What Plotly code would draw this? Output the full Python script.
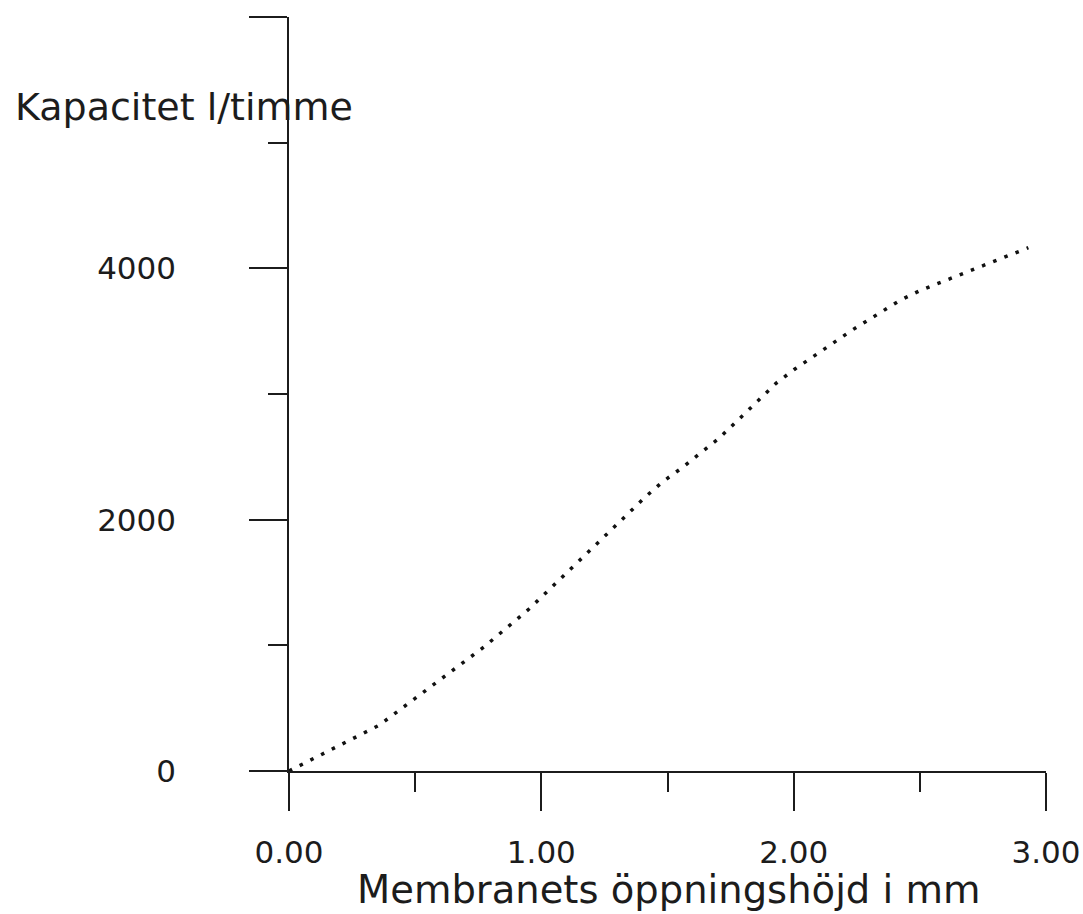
import plotly.graph_objects as go

# Data
opening_mm = [0.00, 0.357, 0.774, 0.951, 1.116, 1.281, 1.415, 1.481, 1.555, 1.629,
              1.701, 1.769, 1.834, 1.930, 2.005, 2.118, 2.232, 2.349, 2.424, 2.503,
              2.589, 2.676, 2.761, 2.846, 2.930]
capacity_lph = [0, 364, 989, 1289, 1607, 1926, 2186, 2302, 2409, 2528,
                2642, 2772, 2899, 3085, 3199, 3350, 3509, 3655, 3748, 3825,
                3894, 3961, 4029, 4096, 4164]

x_major = [0, 1, 2, 3]
x_major_text = ["0.00", "1.00", "2.00", "3.00"]
x_minor = [0.5, 1.5, 2.5]
y_major = [0, 2000, 4000, 6000]
y_major_text = ["0", "2000", "4000", ""]
y_minor = [1000, 3000, 5000]

x_title = "Membranets öppningshöjd i mm"
y_title = "Kapacitet l/timme"

FONT = "DejaVu Sans"
INK = "#1c1c1c"

fig = go.Figure()
fig.add_trace(go.Scatter(
    x=opening_mm, y=capacity_lph, mode="lines",
    line=dict(color="#111111", width=3.5, dash="3.5px,8.5px"),
    showlegend=False, hoverinfo="skip",
))

axis_common = dict(
    showline=True, linecolor=INK, linewidth=1.5, mirror=False,
    showgrid=False, zeroline=False, ticks="outside",
    tickcolor=INK, tickwidth=1.5, ticklen=38,
    tickfont=dict(family=FONT, size=31, color=INK),
    fixedrange=True, automargin=False,
)

fig.update_layout(
    width=1083, height=914,
    margin=dict(l=289, r=37, t=17, b=143),
    paper_bgcolor="white", plot_bgcolor="white",
    xaxis=dict(range=[0, 3], tickmode="array", tickvals=x_major, ticktext=x_major_text,
               minor=dict(tickmode="array", tickvals=x_minor, ticks="outside", ticklen=19,
                          tickcolor=INK, tickwidth=1.5),
               ticklabelstandoff=15, **axis_common),
    yaxis=dict(range=[0, 6000], tickmode="array", tickvals=y_major, ticktext=y_major_text,
               minor=dict(tickmode="array", tickvals=y_minor, ticks="outside", ticklen=19,
                          tickcolor=INK, tickwidth=1.5),
               ticklabelstandoff=67, **axis_common),
    annotations=[
        dict(text=y_title, xref="paper", yref="paper", x=(13 - 289) / 757, y=(771 - 107) / 754,
             xanchor="left", yanchor="middle", showarrow=False,
             font=dict(family=FONT, size=38, color=INK)),
        dict(text=x_title, xref="paper", yref="paper", x=(668 - 289) / 757, y=(771 - 889) / 754,
             xanchor="center", yanchor="middle", showarrow=False, borderpad=0,
             font=dict(family=FONT, size=38.5, color=INK)),
    ],
)

fig.write_html("out.html")
